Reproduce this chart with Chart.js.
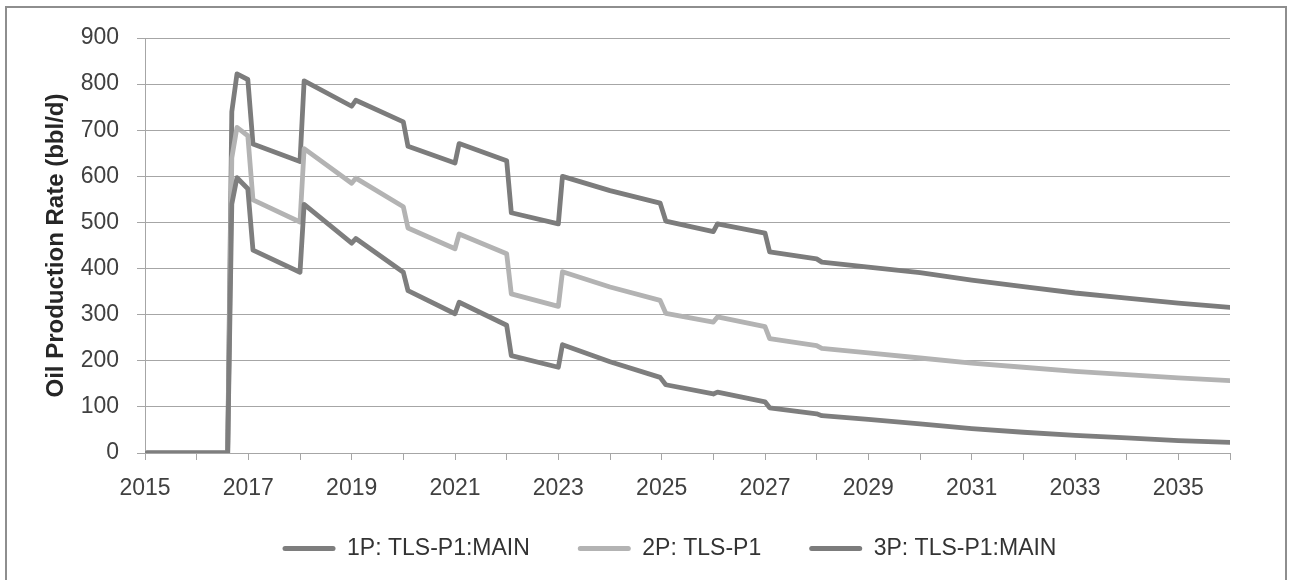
<!DOCTYPE html>
<html><head><meta charset="utf-8">
<script src="https://cdn.jsdelivr.net/npm/chart.js@4"></script>
<style>
html,body{margin:0;padding:0;background:#fff;overflow:hidden;}
#wrap{position:relative;width:1291px;height:580px;overflow:hidden;background:#fff;}
#frame{position:absolute;left:5px;top:6px;width:1282px;height:700px;border:2px solid #8e8e8e;box-sizing:border-box;pointer-events:none;}
canvas{position:absolute;left:0;top:0;}
</style></head><body>
<div id="wrap"><canvas id="c" width="1291" height="580"></canvas><div id="frame"></div></div>
<script>
const dates = [2015.04, 2016.6, 2016.68, 2016.78, 2016.99, 2017.09, 2018.0, 2018.08, 2019.0, 2019.08, 2020.0, 2020.09, 2021.0, 2021.08, 2022.0, 2022.09, 2023.0, 2023.08, 2024.0, 2024.97, 2025.08, 2026.0, 2026.08, 2027.0, 2027.09, 2028.0, 2028.1, 2029, 2030, 2031, 2032, 2033, 2034, 2035, 2036];
const series1P = [0,0,540,597,573,440,392,539,455,465,392,352,302,327,277,211,186,235,198,164,148,128,132,111,98,85,81,73,63,53,45,38,33,27,23];
const series2P = [0,0,640,706,688,549,501,660,585,596,534,488,443,475,432,345,318,393,360,331,303,284,295,274,248,233,227,217,206,195,186,177,170,163,157];
const series3P = [0,0,740,822,810,670,632,807,752,765,718,665,629,671,634,521,497,600,569,542,503,480,497,477,436,421,414,403,391,375,361,347,336,325,316];
const seriesLabels = ['1P: TLS-P1:MAIN', '2P: TLS-P1', '3P: TLS-P1:MAIN'];
const seriesColors = ['#7e7e7e', '#b3b3b3', '#7c7c7c'];
const yAxisTitle = 'Oil Production Rate (bbl/d)';

Chart.defaults.font.family = "'Liberation Sans', Arial, sans-serif";
Chart.defaults.font.size = 23;
Chart.defaults.color = '#404040';

const allSeries = [series1P, series2P, series3P];
const datasets = allSeries.map((s, i) => ({
  label: seriesLabels[i],
  data: dates.map((d, j) => ({x: d, y: s[j]})),
  borderColor: seriesColors[i],
  backgroundColor: seriesColors[i],
  borderWidth: 4.8,
  pointRadius: 0,
  tension: 0,
  borderJoinStyle: 'round',
  borderCapStyle: 'round'
}));

const LEGEND_SHIFT_X = -18;
const LEGEND_SHIFT_Y = -14;
const legendShift = {
  id: 'legendShift',
  afterLayout(chart) {
    const lg = chart.legend;
    if (lg) {
      lg.left += LEGEND_SHIFT_X; lg.right += LEGEND_SHIFT_X;
      lg.top += LEGEND_SHIFT_Y; lg.bottom += LEGEND_SHIFT_Y;
    }
  }
};

new Chart(document.getElementById('c'), {
  type: 'line',
  data: {datasets},
  plugins: [legendShift],
  options: {
    responsive: false,
    animation: false,
    layout: {padding: {left: 0, right: 61, top: 38, bottom: -4}},
    plugins: {
      tooltip: {enabled: false},
      legend: {
        position: 'bottom',
        fullSize: false,
        labels: {
          boxWidth: 53,
          boxHeight: 5,
          padding: 48,
          color: '#333',
          useBorderRadius: true,
          borderRadius: 2.5,
          generateLabels(chart) {
            const items = Chart.defaults.plugins.legend.labels.generateLabels(chart);
            items.forEach(it => { it.lineWidth = 0; it.fillStyle = it.strokeStyle; });
            return items;
          }
        }
      }
    },
    scales: {
      x: {
        type: 'linear',
        min: 2015,
        max: 2036,
        afterFit(scale) { scale.height = 50; },
        grid: {display: true, drawOnChartArea: false, drawTicks: true, tickLength: 7, color: '#a6a6a6'},
        border: {display: true, color: '#a6a6a6', width: 1},
        ticks: {
          stepSize: 1, autoSkip: false, maxRotation: 0, minRotation: 0, padding: 15,
          callback: (v) => (Math.round(v) % 2 === 1 ? String(Math.round(v)) : '')
        }
      },
      y: {
        min: 0,
        max: 900,
        afterFit(scale) { scale.width = 145; },
        grid: {color: '#a6a6a6', lineWidth: 1, tickLength: 8},
        border: {display: true, color: '#a6a6a6', width: 1},
        ticks: {stepSize: 100, padding: 18},
        title: {
          display: true,
          text: yAxisTitle,
          color: '#262626',
          font: {size: 24, weight: 'bold'},
          padding: {top: 42, bottom: 0}
        }
      }
    }
  }
});
</script>
</body></html>
